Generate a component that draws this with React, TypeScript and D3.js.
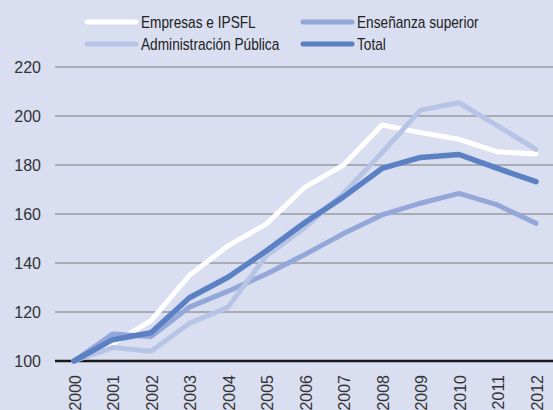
import { useMemo } from 'react';
import * as d3 from 'd3';

const YEARS = [2000, 2001, 2002, 2003, 2004, 2005, 2006, 2007, 2008, 2009, 2010, 2011, 2012];
const Y_TICKS = [100, 120, 140, 160, 180, 200, 220];

const EMPRESAS = [100, 107, 116.5, 135, 147, 156, 171, 180, 196.3, 193.2, 190.5, 185.4, 184.5];
const ENSENANZA = [100, 111, 110, 122, 128.5, 135.5, 143.5, 152, 159.6, 164.4, 168.4, 163.7, 156.2];
const ADMINISTRACION = [100, 105.5, 104, 115.4, 122, 143, 154.5, 168.4, 185, 202.4, 205.4, 196, 186.4];
const TOTAL = [100, 108.7, 111.5, 125.8, 134.2, 145, 156.5, 167, 178.6, 183.1, 184.3, 178.6, 173.2];

const SERIES = [
  { name: 'Empresas e IPSFL', values: EMPRESAS, color: '#ffffff' },
  { name: 'Enseñanza superior', values: ENSENANZA, color: '#93a8d8' },
  { name: 'Administración Pública', values: ADMINISTRACION, color: '#b6c4e5' },
  { name: 'Total', values: TOTAL, color: '#5b80c3' },
];

const WIDTH = 553;
const HEIGHT = 410;
const BG = '#d9def0';

export default function App() {
  // plot area
  const x = useMemo(() => d3.scaleLinear().domain([2000, 2012]).range([74, 536]), []);
  const y = useMemo(() => d3.scaleLinear().domain([100, 220]).range([361, 67]), []);

  const line = d3
    .line<number>()
    .x((_, i) => x(YEARS[i]))
    .y((d) => y(d));

  // legend: two columns, two rows
  const legendPos = [
    { lx: 85, ly: 22 },
    { lx: 301, ly: 22 },
    { lx: 85, ly: 44 },
    { lx: 301, ly: 44 },
  ];

  return (
    <svg
      width={WIDTH}
      height={HEIGHT}
      style={{ position: 'absolute', left: 0, top: 0, background: BG }}
    >
      <rect width={WIDTH} height={HEIGHT} fill={BG} />

      {Y_TICKS.map((t) => (
        <g key={t}>
          <line
            x1={55}
            x2={WIDTH}
            y1={y(t)}
            y2={y(t)}
            stroke={t === 100 ? '#1a1a1a' : '#7a7a7a'}
            strokeWidth={t === 100 ? 2.5 : 1.2}
          />
          <text
            x={41}
            y={y(t)}
            dy="0.36em"
            textAnchor="end"
            fontFamily="'Liberation Sans', Arial, sans-serif"
            fontSize={16}
            fill="#333"
          >
            {t}
          </text>
        </g>
      ))}

      {YEARS.map((yr) => (
        <text
          key={yr}
          transform={`translate(${x(yr) + 1},375) rotate(-90)`}
          dy="0.36em"
          textAnchor="end"
          fontFamily="'Liberation Sans', Arial, sans-serif"
          fontSize={16}
          fill="#333"
        >
          {yr}
        </text>
      ))}

      {SERIES.map((s) => (
        <path
          key={s.name}
          d={line(s.values) || ''}
          fill="none"
          stroke={s.color}
          strokeWidth={s.name === 'Total' ? 5.5 : 5}
          strokeLinejoin="round"
          strokeLinecap="round"
        />
      ))}

      {SERIES.map((s, i) => {
        const { lx, ly } = legendPos[i];
        return (
          <g key={s.name}>
            <line
              x1={lx + 2}
              x2={lx + 51}
              y1={ly}
              y2={ly}
              stroke={s.color}
              strokeWidth={5}
              strokeLinecap="round"
            />
            {/* the original face is condensed, squeeze it horizontally */}
            <text
              transform={`translate(${lx + 56},${ly}) scale(0.855,1)`}
              dy="0.36em"
              fontFamily="'Liberation Sans', Arial, sans-serif"
              fontSize={16}
              fill="#222"
            >
              {s.name}
            </text>
          </g>
        );
      })}
    </svg>
  );
}
